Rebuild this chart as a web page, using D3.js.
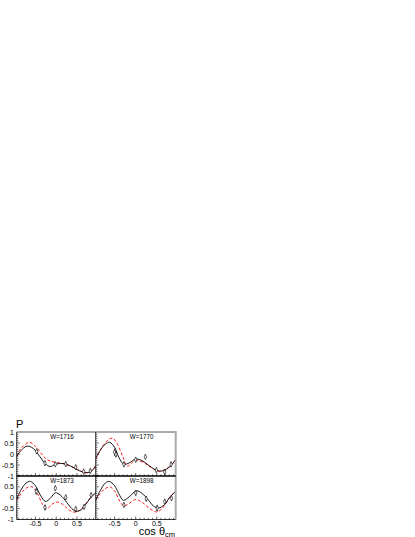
<!DOCTYPE html>
<html>
<head>
<meta charset="utf-8">
<script src="https://cdn.jsdelivr.net/npm/d3@7"></script>
<style>
  body { margin: 0; background: #fff; }
  svg { display: block; font-family: "Liberation Sans", Arial, sans-serif; }
</style>
</head>
<body>
<div id="chart"></div>
<script>
// panel labels (energy W)
const panelLabels = ["W=1716", "W=1770", "W=1873", "W=1898"];

// solid black curve, [cos theta, P]
const solid1716 = [[-0.95,-0.12],[-0.85,0.15],[-0.7,0.36],[-0.55,0.25],[-0.4,-0.1],[-0.27,-0.42],[-0.15,-0.57],[-0.02,-0.47],[0.1,-0.43],[0.23,-0.46],[0.4,-0.6],[0.55,-0.75],[0.72,-0.85],[0.85,-0.78],[0.95,-0.55]];
const solid1770 = [[-0.95,-0.2],[-0.85,0.15],[-0.72,0.45],[-0.62,0.53],[-0.5,0.3],[-0.4,-0.15],[-0.28,-0.47],[-0.15,-0.4],[0,-0.23],[0.15,-0.3],[0.3,-0.5],[0.45,-0.7],[0.57,-0.78],[0.7,-0.72],[0.85,-0.5],[0.95,-0.24]];
const solid1873 = [[-0.95,-0.07],[-0.85,0.35],[-0.72,0.68],[-0.62,0.75],[-0.5,0.55],[-0.38,0.12],[-0.26,-0.17],[-0.14,-0.02],[-0.02,0.23],[0.1,0.12],[0.25,-0.2],[0.35,-0.45],[0.47,-0.62],[0.6,-0.55],[0.75,-0.2],[0.85,0.05],[0.95,0.23]];
const solid1898 = [[-0.95,-0.12],[-0.85,0.3],[-0.72,0.68],[-0.63,0.75],[-0.5,0.55],[-0.4,0.18],[-0.29,-0.12],[-0.15,0.05],[0.02,0.32],[0.15,0.2],[0.3,-0.1],[0.42,-0.38],[0.55,-0.47],[0.68,-0.32],[0.82,0.05],[0.95,0.3]];

// red dashed curve
const dashed1716 = [[-0.95,-0.1],[-0.85,0.25],[-0.65,0.53],[-0.5,0.35],[-0.35,0],[-0.25,-0.22],[-0.15,-0.32],[0,-0.38],[0.2,-0.45],[0.35,-0.55],[0.55,-0.75],[0.7,-0.85],[0.85,-0.78],[0.95,-0.5]];
const dashed1770 = [[-0.95,-0.25],[-0.8,0.3],[-0.65,0.65],[-0.55,0.72],[-0.45,0.5],[-0.3,-0.15],[-0.2,-0.55],[-0.05,-0.35],[0.05,-0.3],[0.2,-0.4],[0.35,-0.6],[0.55,-0.78],[0.7,-0.7],[0.85,-0.5],[0.95,-0.25]];
const dashed1873 = [[-0.95,-0.12],[-0.8,0.3],[-0.68,0.48],[-0.58,0.5],[-0.45,0.2],[-0.33,-0.3],[-0.22,-0.5],[-0.1,-0.3],[0.02,-0.2],[0.15,-0.3],[0.3,-0.55],[0.42,-0.66],[0.55,-0.6],[0.7,-0.3],[0.85,0.05],[0.95,0.23]];
const dashed1898 = [[-0.95,-0.1],[-0.8,0.3],[-0.62,0.5],[-0.5,0.3],[-0.38,-0.15],[-0.28,-0.38],[-0.15,-0.25],[0,-0.08],[0.15,-0.2],[0.3,-0.45],[0.5,-0.65],[0.65,-0.45],[0.8,0],[0.95,0.3]];

// measured points [cos theta, P, error]
const data1716 = [[-0.47,0.12,0.08],[-0.27,-0.42,0.07],[-0.02,-0.47,0.05],[0.23,-0.46,0.06],[0.47,-0.6,0.06],[0.66,-0.8,0.07],[0.82,-0.77,0.08]];
const data1770 = [[-0.5,0.08,0.17],[-0.47,-0.02,0.12],[-0.28,-0.47,0.08],[0,-0.26,0.05],[0.23,-0.13,0.06],[0.49,-0.73,0.05],[0.69,-0.82,0.12],[0.84,-0.47,0.1]];
const data1873 = [[-0.48,0.29,0.15],[-0.27,-0.45,0.12],[-0.02,0.44,0.1],[0.23,0.02,0.08],[0.47,-0.52,0.08],[0.67,-0.42,0.07],[0.84,0.12,0.1]];
const data1898 = [[-0.28,-0.33,0.07],[0,0.22,0.1],[0.25,-0.05,0.1],[0.51,-0.48,0.15],[0.69,-0.18,0.1],[0.85,-0.02,0.12]];

const yTickLabels = ["1", "0.5", "0", "-0.5", "-1"];
const xTickLabels = ["-0.5", "0", "0.5"];

const width = 415, height = 537;
const colX = [16.7, 95.7, 175.7];
const rowY = [432, 476, 519.5];

const panels = [
  { label: panelLabels[0], solid: solid1716, dashed: dashed1716, pts: data1716, c: 0, r: 0 },
  { label: panelLabels[1], solid: solid1770, dashed: dashed1770, pts: data1770, c: 1, r: 0 },
  { label: panelLabels[2], solid: solid1873, dashed: dashed1873, pts: data1873, c: 0, r: 1 },
  { label: panelLabels[3], solid: solid1898, dashed: dashed1898, pts: data1898, c: 1, r: 1 },
];

const svg = d3.select("#chart").append("svg")
  .attr("width", width).attr("height", height);

panels.forEach((p) => {
  const x = d3.scaleLinear().domain([-0.95, 0.95]).range([colX[p.c], colX[p.c + 1]]);
  const y = d3.scaleLinear().domain([-1, 1]).range([rowY[p.r + 1], rowY[p.r]]);
  const g = svg.append("g");

  const clipId = "clip" + p.c + p.r;
  g.append("clipPath").attr("id", clipId).append("rect")
    .attr("x", colX[p.c]).attr("y", rowY[p.r])
    .attr("width", colX[p.c + 1] - colX[p.c]).attr("height", rowY[p.r + 1] - rowY[p.r]);

  // y ticks (inside, on left edge)
  const yMinor = d3.range(-1, 1.001, 0.1);
  g.selectAll(".ym").data(yMinor).enter().append("line")
    .attr("x1", x(-0.95)).attr("x2", (d) => x(-0.95) + (Math.abs(Math.round(d * 10) % 5) === 0 ? 3 : 1.6))
    .attr("y1", (d) => y(d)).attr("y2", (d) => y(d))
    .attr("stroke", "#000").attr("stroke-width", 0.6);

  // x ticks (inside, on bottom edge)
  const xMinor = d3.range(-0.9, 0.901, 0.1);
  g.selectAll(".xm").data(xMinor).enter().append("line")
    .attr("x1", (d) => x(d)).attr("x2", (d) => x(d))
    .attr("y1", y(-1)).attr("y2", (d) => y(-1) - (Math.abs(Math.round(d * 10) % 5) === 0 ? 3 : 1.6))
    .attr("stroke", "#000").attr("stroke-width", 0.6);

  const line = d3.line().x((d) => x(d[0])).y((d) => y(d[1])).curve(d3.curveCatmullRom.alpha(0.5));

  g.append("path").datum(p.dashed).attr("d", line)
    .attr("clip-path", `url(#${clipId})`)
    .attr("fill", "none").attr("stroke", "#f00").attr("stroke-width", 0.9)
    .attr("stroke-dasharray", "3,2");

  g.append("path").datum(p.solid).attr("d", line)
    .attr("clip-path", `url(#${clipId})`)
    .attr("fill", "none").attr("stroke", "#000").attr("stroke-width", 0.9);

  // error bars
  g.selectAll(".err").data(p.pts).enter().append("line")
    .attr("x1", (d) => x(d[0])).attr("x2", (d) => x(d[0]))
    .attr("y1", (d) => y(d[1] - d[2])).attr("y2", (d) => y(d[1] + d[2]))
    .attr("stroke", "#000").attr("stroke-width", 0.7);

  // open diamonds
  g.selectAll(".pt").data(p.pts).enter().append("path")
    .attr("d", d3.symbol(d3.symbolDiamond, 9))
    .attr("transform", (d) => `translate(${x(d[0])},${y(d[1])}) scale(0.75,1)`)
    .attr("fill", "#fff").attr("stroke", "#000").attr("stroke-width", 0.7);

  g.append("text")
    .attr("x", x(0.14)).attr("y", rowY[p.r] + 7)
    .attr("text-anchor", "middle").attr("font-size", 6.3)
    .text(p.label);

  // y tick labels on left column
  if (p.c === 0) {
    const vals = p.r === 0 ? [1, 0.5, 0, -0.5, -1] : [0.5, 0, -0.5, -1];
    g.selectAll(".yl").data(vals).enter().append("text")
      .attr("x", 14).attr("y", (d) => y(d) + 2.5)
      .attr("text-anchor", "end").attr("font-size", 7)
      .text((d) => yTickLabels[[1, 0.5, 0, -0.5, -1].indexOf(d)]);
  }
  // x tick labels on bottom row
  if (p.r === 1) {
    g.selectAll(".xl").data([-0.5, 0, 0.5]).enter().append("text")
      .attr("x", (d) => x(d)).attr("y", rowY[2] + 6.3)
      .attr("text-anchor", "middle").attr("font-size", 7)
      .text((d, i) => xTickLabels[i]);
  }
});

// frame
svg.append("line").attr("x1", colX[0]).attr("x2", colX[2] + 1).attr("y1", rowY[0]).attr("y2", rowY[0])
  .attr("stroke", "#aaa").attr("stroke-width", 2);
svg.append("line").attr("x1", colX[2]).attr("x2", colX[2]).attr("y1", rowY[0]).attr("y2", rowY[2])
  .attr("stroke", "#aaa").attr("stroke-width", 2);
svg.append("line").attr("x1", colX[0]).attr("x2", colX[2]).attr("y1", rowY[1]).attr("y2", rowY[1])
  .attr("stroke", "#000").attr("stroke-width", 1.4);
svg.append("line").attr("x1", colX[0]).attr("x2", colX[2]).attr("y1", rowY[2]).attr("y2", rowY[2])
  .attr("stroke", "#000").attr("stroke-width", 0.8);
[colX[0], colX[1]].forEach((cx) => {
  svg.append("line").attr("x1", cx).attr("x2", cx).attr("y1", rowY[0]).attr("y2", rowY[2])
    .attr("stroke", "#000").attr("stroke-width", 0.8);
});

// axis titles
svg.append("text").attr("x", 16).attr("y", 428).attr("font-size", 11).text("P");
const xt = svg.append("text").attr("x", 175).attr("y", 535.3).attr("text-anchor", "end").attr("font-size", 11);
xt.append("tspan").text("cos θ");
xt.append("tspan").attr("font-size", 7.5).attr("dy", 1.5).text("cm");
</script>
</body>
</html>
